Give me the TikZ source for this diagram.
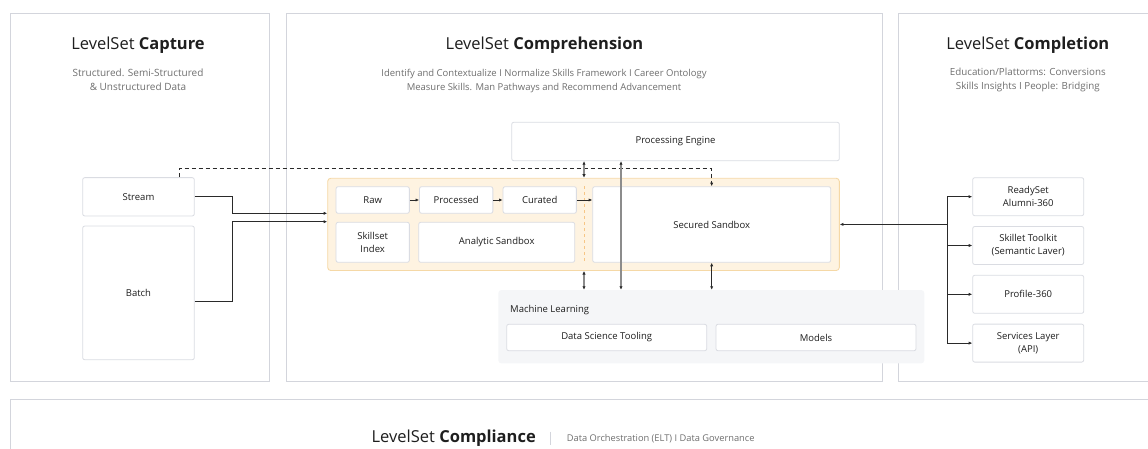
\documentclass[tikz,border=0pt]{standalone}
\usepackage{fontspec}
\setmainfont{Open Sans}
\usepackage{tikz}
\usetikzlibrary{arrows.meta,positioning}

\definecolor{panelline}{HTML}{D3D5DC}
\definecolor{boxline}{HTML}{DADCE2}
\definecolor{lanefill}{HTML}{FEF3E1}
\definecolor{laneline}{HTML}{F5D8A6}
\definecolor{mlfill}{HTML}{F5F6F8}
\definecolor{ink}{HTML}{1E1E1E}
\definecolor{subink}{HTML}{6E6E6E}
\definecolor{wire}{HTML}{2A2A2A}
\definecolor{greywire}{HTML}{8C8C8C}

\begin{document}
\begin{tikzpicture}[
  x = 1pt, y = -1pt,
  panel/.style = {rectangle, draw=panelline, line width=0.9pt, anchor=north west,
                  inner sep=0pt},
  box/.style   = {rectangle, draw=boxline, fill=white, rounded corners=2pt,
                  line width=0.8pt, align=center, inner sep=0pt, text=ink,
                  font=\fontsize{9.5}{13}\selectfont},
  lane/.style  = {rectangle, draw=laneline, fill=lanefill, rounded corners=3pt,
                  line width=0.9pt, inner sep=0pt},
  mlzone/.style = {rectangle, fill=mlfill, rounded corners=3pt, inner sep=0pt},
  ttl/.style   = {text=ink, font=\fontsize{16.5}{20}\selectfont},
  sub/.style   = {text=subink, align=center, font=\fontsize{9.5}{14}\selectfont},
  flow/.style  = {draw=wire, line width=0.7pt, -{Latex[length=3.6pt,width=3.2pt]}},
  dflow/.style = {draw=wire, line width=0.7pt,
                  {Latex[length=3.6pt,width=3.2pt]}-{Latex[length=3.6pt,width=3.2pt]}},
  gflow/.style = {draw=greywire, line width=1.1pt,
                  {Latex[length=3.6pt,width=3.4pt,color=wire]}-{Latex[length=3.6pt,width=3.4pt,color=wire]}}
]
\useasboundingbox (0,0) rectangle (1148,449);

% ───────── panels ─────────
\node[panel, minimum width=259pt,   minimum height=367.5pt] (capture) at (9.5,13.5) {};
\node[panel, minimum width=596.2pt, minimum height=367.5pt] (compr)   at (285.5,13.5) {};
\node[panel, minimum width=262pt,   minimum height=367.5pt] (compl)   at (898.3,13.5) {};
\node[panel, minimum width=1150pt,  minimum height=60pt]    (comply)  at (9.5,398.5) {};

% ───────── titles ─────────
\node[ttl] (capT)  at (138,45)    {LevelSet \textbf{Capture}};
\node[sub, font=\fontsize{10}{14}\selectfont] (capS) at (138,80) {Structured. Semi-Structured\\\& Unstructured Data};
\node[ttl] (comT)  at (544.5,45)  {LevelSet \textbf{Comprehension}};
\node[sub] (comS)  at (544,81)    {Identify and Contextualize I Normalize Skills Framework I Career Ontology\\Measure Skills. Man Pathways and Recommend Advancement};
\node[ttl] (cplT)  at (1027.8,45) {LevelSet \textbf{Completion}};
\node[sub, font=\fontsize{9.8}{14}\selectfont] (cplS) at (1027.8,80) {Education/Plattorms: Conversions\\Skills Insights I People: Bridging};
\node[ttl, anchor=mid east] (cmpT) at (539.3,439.5) {LevelSet \textbf{Compliance}};
\node[sub, anchor=mid west, font=\fontsize{9.3}{11}\selectfont] (cmpS) at (563.3,439)
     {Data Orchestration (ELT) I Data Governance};
\draw[panelline, line width=0.8pt] (550,431.5) -- (550,444.5);

% ───────── capture ─────────
\node[box, minimum width=111.6pt, minimum height=38.3pt] (stream) at (138.5,196.8) {Stream};
\node[box, minimum width=111.6pt, minimum height=133.7pt, below=9.3pt of stream] (batch) {Batch};

% ───────── comprehension ─────────
\node[box, minimum width=327.6pt, minimum height=38.4pt] (pe) at (675.5,141.5) {Processing Engine};
\node[lane, minimum width=511.6pt, minimum height=92.2pt] (lane) at (583.5,224.4) {};

\node[box, minimum width=73.3pt, minimum height=26.6pt] (raw) at (372.7,200) {Raw};
\node[box, minimum width=73.3pt, minimum height=26.6pt, right=9.4pt of raw]  (proc) {Processed};
\node[box, minimum width=73.3pt, minimum height=26.6pt, right=9.4pt of proc] (cur)  {Curated};
\node[box, minimum width=73.3pt, minimum height=40pt] (skill) at (372.7,242.3) {Skillset\\Index};
\node[box, minimum width=156pt,  minimum height=40pt] (analytic) at (496.7,242.3) {Analytic Sandbox};
\node[box, minimum width=238pt,  minimum height=75.6pt] (secured) at (711.7,224.5) {Secured Sandbox};

\coordinate (sepx)  at (584,0);
\coordinate (spine) at (621,0);
\draw[laneline!80!orange, line width=0.7pt, dashed] (sepx |- raw.north) -- (sepx |- skill.south);

\node[mlzone, minimum width=426pt, minimum height=73.3pt] (ml) at (711.3,326.7) {};
\node[text=ink, anchor=mid west, font=\fontsize{9.5}{12}\selectfont] (mlT) at (506.7,310.3) {Machine Learning};
\node[box, minimum width=200pt, minimum height=26.4pt] (dst)    at (606.7,337.5) {Data Science Tooling};
\node[box, minimum width=200pt, minimum height=26.4pt] (models) at (816,337.5)   {Models};

% ───────── completion ─────────
\node[box, minimum width=111pt, minimum height=38pt] (alumni) at (1028.2,196.7) {ReadySet\\Alumni-360};
\node[box, minimum width=111pt, minimum height=38pt, below=10pt of alumni]  (toolkit)  {Skillet Toolkit\\(Semantic Laver)};
\node[box, minimum width=111pt, minimum height=38pt, below=10pt of toolkit] (profile)  {Profile-360};
\node[box, minimum width=111pt, minimum height=38pt, below=10pt of profile] (services) {Services Layer\\(API)};
\coordinate (trunk) at (947.3,0);

% ───────── arrows ──────────
\draw[flow] (stream.east) -- ++(37.4,0) |- ([yshift=11.1pt]lane.west);
\draw[flow] ([yshift=-8.5pt]batch.east) -- ++(37.4,0) |- ([yshift=2.7pt]lane.west);
\draw[flow, dash pattern=on 4pt off 3pt] ([xshift=40.5pt]stream.north) -- ++(0,-8.4) -| (secured.north);

\draw[flow] (raw)  -- (proc);
\draw[flow] (proc) -- (cur);
\draw[flow] (cur.east) -- (cur.east -| secured.west);

\draw[gflow] (pe.south -| sepx)   -- (lane.north -| sepx);
\draw[gflow] (lane.south -| sepx) -- (ml.north -| sepx);
\draw[gflow] (pe.south -| spine)  -- (ml.north -| spine);
\draw[dflow] (secured.south) -- (secured.south |- ml.north);

\draw[draw=wire, line width=0.7pt] (alumni.west -| trunk) -- (services.west -| trunk);
\draw[flow] (lane.east -| trunk) -- (lane.east);
\foreach \n in {alumni,toolkit,profile,services}
  \draw[flow] (\n.west -| trunk) -- (\n.west);
\end{tikzpicture}
\end{document}
